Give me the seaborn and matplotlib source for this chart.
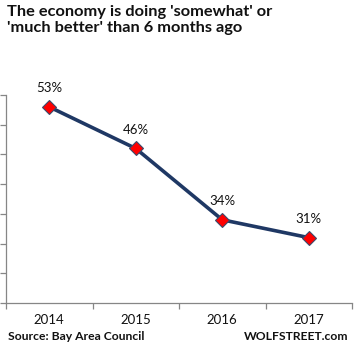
import matplotlib as mpl
import matplotlib.pyplot as plt
import seaborn as sns
import pandas as pd

years = ['2014', '2015', '2016', '2017']
share = [53, 46, 34, 31]
labels = ['53%', '46%', '34%', '31%']

sns.set_theme(style='white')
mpl.rcParams['font.family'] = ['Lato', 'DejaVu Sans']

df = pd.DataFrame({'pos': range(len(years)), 'share': share})

fig = plt.figure(figsize=(3.58, 3.53), dpi=100)
ax = fig.add_axes([6 / 358, 50 / 353, 346 / 358, 208 / 353])

sns.lineplot(data=df, x='pos', y='share', ax=ax, color='#1f3864', linewidth=2.6,
             marker='D', markersize=7.5, markerfacecolor='#ff0000',
             markeredgecolor='#3b4a6b', markeredgewidth=0.8)

for x, y, t in zip(df['pos'], df['share'], labels):
    ax.annotate(t, (x, y), xytext=(0, 9), textcoords='offset points',
                ha='center', va='bottom', fontsize=9.5, color='#111111')

ax.set_xlim(-0.5, len(years) - 0.5)
ax.set_ylim(20, 55)
ax.set_yticks(range(20, 56, 5))
ax.set_yticklabels([])
ax.set_xticks([i - 0.5 for i in range(len(years) + 1)])
ax.set_xticklabels([])
for i, yr in enumerate(years):
    ax.text(i, -0.055, yr, transform=ax.get_xaxis_transform(), ha='center',
            va='top', fontsize=9.5, color='#111111')
ax.set_xlabel('')
ax.set_ylabel('')
ax.tick_params(axis='both', which='both', direction='out', length=4, width=0.9,
               color='#868686', left=True, bottom=True)
for side in ['top', 'right']:
    ax.spines[side].set_visible(False)
for side in ['left', 'bottom']:
    ax.spines[side].set_color('#868686')
    ax.spines[side].set_linewidth(0.9)

fig.text(7 / 358, 1 - 20 / 353, "The economy is doing 'somewhat' or\n'much better' than 6 months ago",
         ha='left', va='center', fontsize=11.8, fontweight='bold', color='#111111',
         linespacing=1.2)
fig.text(8 / 358, 1 - 337 / 353, 'Source: Bay Area Council', ha='left', va='center',
         fontsize=8.7, fontweight='bold', color='#111111')
fig.text(348 / 358, 1 - 337 / 353, 'WOLFSTREET.com', ha='right', va='center',
         fontsize=8.7, fontweight='bold', color='#111111')

fig.savefig('out.png', dpi=100)
